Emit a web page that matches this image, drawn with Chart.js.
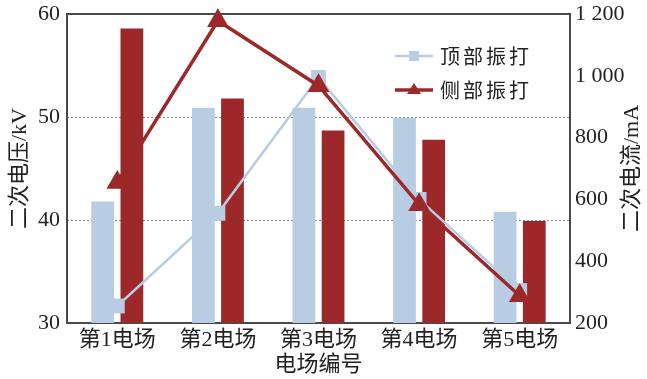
<!DOCTYPE html>
<html>
<head>
<meta charset="utf-8">
<script src="https://cdn.jsdelivr.net/npm/chart.js@4.4.1/dist/chart.umd.min.js"></script>
<style>
  html, body { margin: 0; padding: 0; background: #fff; }
  #wrap { width: 647px; height: 379px; }
</style>
</head>
<body>
<div id="wrap"><canvas id="chart"></canvas></div>
<script>
// Data
const categories = ['第1电场', '第2电场', '第3电场', '第4电场', '第5电场'];
const seriesNames = ['顶部振打', '侧部振打'];
const topVoltage = [41.8, 50.9, 50.9, 49.9, 40.8];   // kV, bars
const sideVoltage = [58.6, 51.8, 48.7, 47.8, 39.9];  // kV, bars
const topCurrent = [255, 555, 995, 600, 305];        // mA, line
const sideCurrent = [655, 1178, 968, 583, 288];      // mA, line
const voltageTicks = [30, 40, 50, 60];
const currentTicks = [200, 400, 600, 800, 1000, 1200];

const BLUE = '#b8cce4';
const RED = '#9d2829';
const FONT = "'Liberation Serif', 'Noto Sans CJK SC', serif";

// Frame round the plot, right axis title and the legend
const frameAndLabels = {
  id: 'frameAndLabels',
  beforeDatasetsDraw(chart) {
    const { ctx, chartArea: a } = chart;
    ctx.save();
    ctx.strokeStyle = '#4a4a4a';
    ctx.lineWidth = 2;
    ctx.strokeRect(a.left, a.top, a.right - a.left, a.bottom - a.top);
    ctx.restore();
  },
  afterDraw(chart) {
    const { ctx, chartArea: a } = chart;

    // right axis title reads bottom to top, like the left one
    ctx.save();
    ctx.translate(a.right + 62, (a.top + a.bottom) / 2);
    ctx.rotate(-Math.PI / 2);
    ctx.font = '22px ' + FONT;
    ctx.fillStyle = '#222';
    ctx.textAlign = 'center';
    ctx.textBaseline = 'middle';
    ctx.fillText('二次电流/mA', 0, 0);
    ctx.restore();

    // legend for the two line series
    const lines = chart.data.datasets.filter(d => d.type === 'line');
    lines.forEach((ds, i) => {
      const y = a.top + 42 + i * 34;
      const x0 = a.right - 175;
      const x1 = a.right - 137;
      const cx = (x0 + x1) / 2;
      ctx.save();
      ctx.strokeStyle = ds.borderColor;
      ctx.fillStyle = ds.borderColor;
      ctx.lineWidth = ds.borderWidth;
      ctx.beginPath();
      ctx.moveTo(x0, y);
      ctx.lineTo(x1, y);
      ctx.stroke();
      if (ds.pointStyle === 'rect') {
        ctx.fillRect(cx - 5, y - 5, 10, 10);
      } else {
        ctx.beginPath();
        ctx.moveTo(cx, y - 7);
        ctx.lineTo(cx + 7, y + 4);
        ctx.lineTo(cx - 7, y + 4);
        ctx.closePath();
        ctx.fill();
      }
      ctx.font = "20px 'Noto Sans CJK SC', sans-serif";
      ctx.letterSpacing = '3px';
      ctx.fillStyle = '#222';
      ctx.textAlign = 'left';
      ctx.textBaseline = 'middle';
      ctx.fillText(ds.label, a.right - 130, y);
      ctx.restore();
    });
  }
};

// fixed box sizes, no label overflow padding
function fixWidth(w) {
  return s => { s.width = w; s.paddingTop = 0; s.paddingBottom = 0; };
}

new Chart(document.getElementById('chart'), {
  data: {
    labels: categories,
    datasets: [
      {
        type: 'bar', label: seriesNames[0], data: topVoltage, yAxisID: 'y',
        backgroundColor: BLUE, order: 2,
        categoryPercentage: 0.58, barPercentage: 0.78
      },
      {
        type: 'bar', label: seriesNames[1], data: sideVoltage, yAxisID: 'y',
        backgroundColor: RED, order: 2,
        categoryPercentage: 0.58, barPercentage: 0.78
      },
      {
        type: 'line', label: seriesNames[0], data: topCurrent, yAxisID: 'y1',
        borderColor: BLUE, backgroundColor: BLUE, borderWidth: 2.5,
        pointStyle: 'rect', pointRadius: 10.5, pointBorderWidth: 0,
        order: 1, clip: false
      },
      {
        type: 'line', label: seriesNames[1], data: sideCurrent, yAxisID: 'y1',
        borderColor: RED, backgroundColor: RED, borderWidth: 3.5,
        pointStyle: 'triangle', pointRadius: 12.5, pointBorderWidth: 0,
        order: 0, clip: false
      }
    ]
  },
  options: {
    responsive: true,
    maintainAspectRatio: false,
    animation: false,
    layout: { padding: { top: 14, left: 0, right: 0, bottom: 0 } },
    font: { family: FONT },
    plugins: {
      legend: { display: false },
      tooltip: { enabled: false }
    },
    scales: {
      x: {
        offset: true,
        grid: { display: false, drawTicks: false },
        border: { display: false },
        ticks: { color: '#222', padding: 4, font: { family: FONT, size: 22 } },
        title: {
          display: true, text: '电场编号', color: '#222',
          font: { family: FONT, size: 22 }, padding: { top: 0, bottom: 1 }
        },
        afterFit(s) { s.height = 56; s.paddingLeft = 0; s.paddingRight = 0; }
      },
      y: {
        position: 'left',
        min: 30, max: 60,
        z: 1,
        afterBuildTicks(s) { s.ticks = voltageTicks.map(v => ({ value: v })); },
        grid: {
          drawTicks: false,
          lineWidth: 1,
          color: c => (c.tick && c.tick.value > 30 && c.tick.value < 60) ? '#8a8a8a' : 'transparent'
        },
        border: { display: false, dash: [2, 2] },
        ticks: { color: '#222', padding: 7, font: { family: FONT, size: 22 } },
        title: {
          display: true, text: '二次电压/kV', color: '#222',
          font: { family: FONT, size: 22 }, padding: { top: 7, bottom: 0 }
        },
        afterFit: fixWidth(67)
      },
      y1: {
        position: 'right',
        min: 200, max: 1200,
        afterBuildTicks(s) { s.ticks = currentTicks.map(v => ({ value: v })); },
        grid: { display: false, drawTicks: false },
        border: { display: false },
        ticks: {
          color: '#222', padding: 5, font: { family: FONT, size: 22 },
          callback: v => String(v).replace(/\B(?=(\d{3})+(?!\d))/g, ' ')
        },
        afterFit: fixWidth(77)
      }
    }
  },
  plugins: [frameAndLabels]
});
</script>
</body>
</html>
